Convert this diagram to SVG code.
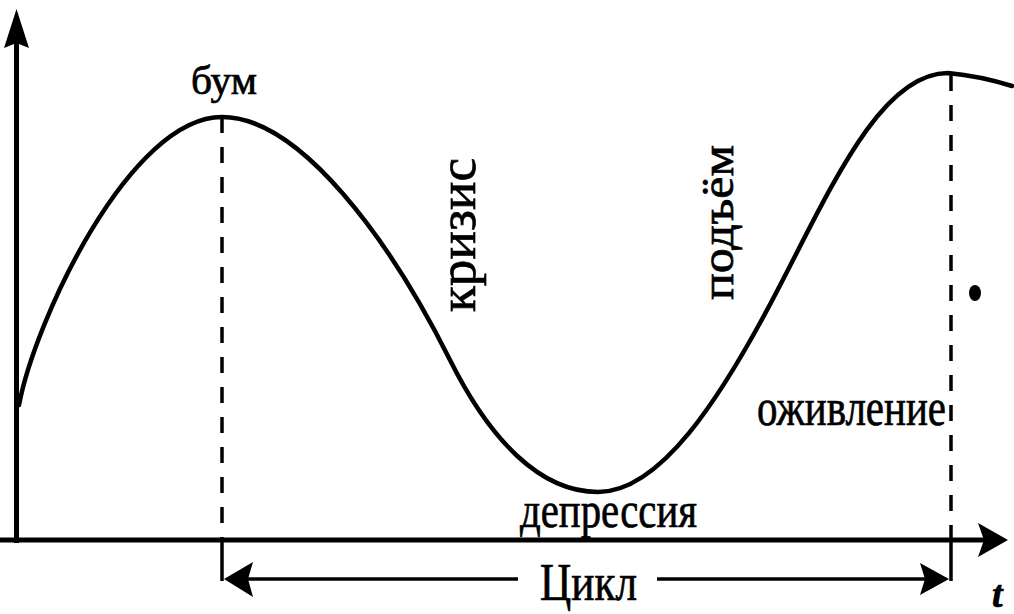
<svg xmlns="http://www.w3.org/2000/svg" width="1014" height="614" viewBox="0 0 1014 614">
<style>
.lbl{font-family:"Liberation Serif","Times New Roman",serif;fill:#000;stroke:#000;stroke-width:0.7;}
.axis{stroke:#000;stroke-width:5;fill:none;}
.thin{stroke:#000;stroke-width:3.5;fill:none;}
.dash{stroke:#000;stroke-width:3.5;fill:none;stroke-dasharray:16 14;}
.curve{stroke:#000;stroke-width:4.5;fill:none;stroke-linecap:round;}
.head{fill:#000;}
</style>
<rect width="1014" height="614" fill="#fff"/>
<g id="axes">
  <line class="axis" x1="16.5" y1="543" x2="16.5" y2="40"/>
  <polygon class="head" points="16.5,9 29,48 16.5,43 4,48"/>
  <line class="axis" x1="0" y1="540" x2="985" y2="540"/>
  <polygon class="head" points="1008,540 978,523 984,540 978,557"/>
</g>
<g id="curve">
  <path class="curve" d="M19,405 C35,320 130,117 222,117 C300,117 390,240 450,360 C490,440 540,492 598,492 C660,492 720,400 775,295 C830,190 880,73 948,73 Q980,76 1012,86"/>
</g>
<g id="connectors">
  <line class="dash" x1="222" y1="117" x2="222" y2="540"/>
  <line class="dash" x1="951" y1="75" x2="951" y2="540"/>
  <line class="thin" x1="222" y1="540" x2="222" y2="581"/>
  <line class="thin" x1="951" y1="540" x2="951" y2="581"/>
  <line class="thin" x1="240" y1="579" x2="518" y2="579"/>
  <line class="thin" x1="657" y1="579" x2="930" y2="579"/>
  <polygon class="head" points="224,579 253,562 248,579 253,597"/>
  <polygon class="head" points="949,579 920,563 925,579 920,595"/>
</g>
<g id="labels">
  <text class="lbl" x="191" y="94" font-size="40" textLength="66" lengthAdjust="spacingAndGlyphs">бум</text>
  <text class="lbl" transform="translate(475,312) rotate(-90)" font-size="52" textLength="154" lengthAdjust="spacingAndGlyphs">кризис</text>
  <text class="lbl" transform="translate(733,300) rotate(-90)" font-size="46" textLength="155" lengthAdjust="spacingAndGlyphs">подъём</text>
  <text class="lbl" x="757" y="425" font-size="52" textLength="189" lengthAdjust="spacingAndGlyphs">оживление</text>
  <text class="lbl" x="520" y="527" font-size="50" textLength="177" lengthAdjust="spacingAndGlyphs">депрессия</text>
  <text class="lbl" x="540" y="600" font-size="52" textLength="97" lengthAdjust="spacingAndGlyphs">Цикл</text>
  <text class="lbl" x="992" y="607" font-size="38" font-style="italic" font-weight="bold">t</text>
</g>
<ellipse cx="975" cy="293" rx="6" ry="8" fill="#000"/>
</svg>
